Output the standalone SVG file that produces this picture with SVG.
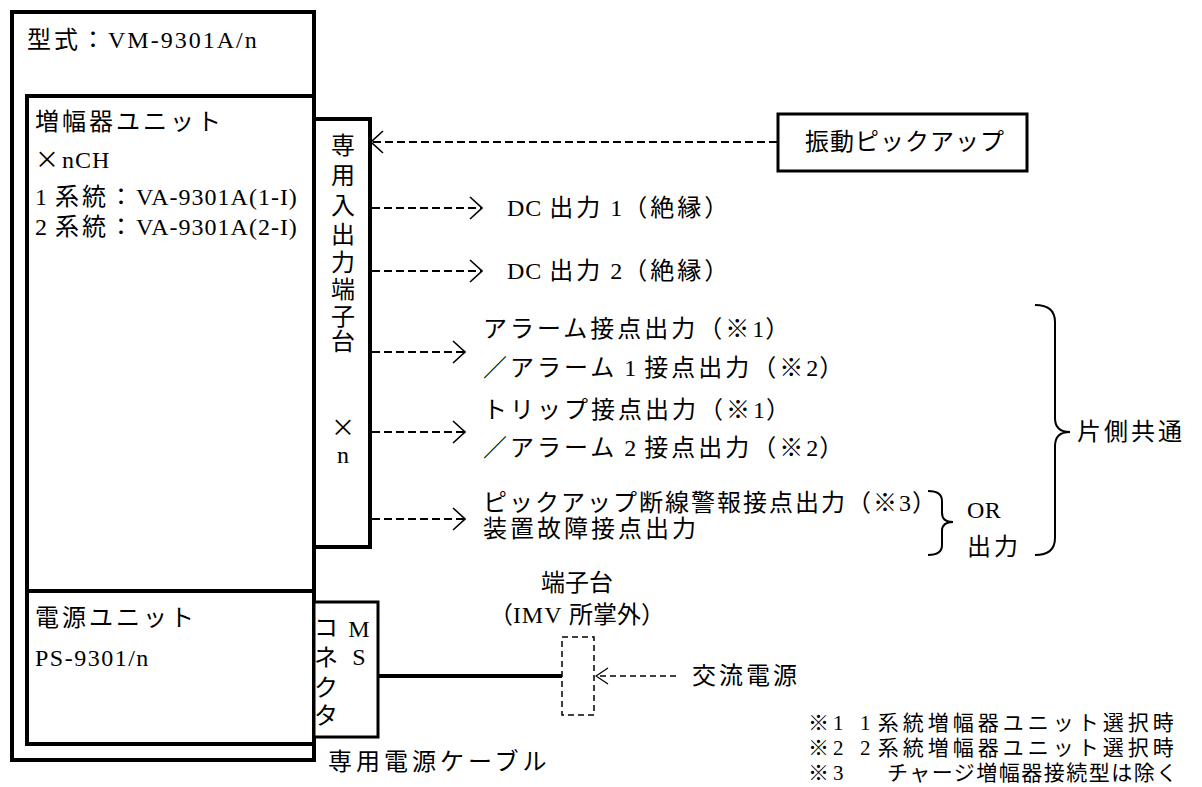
<svg xmlns="http://www.w3.org/2000/svg" width="1202" height="787" viewBox="0 0 1202 787">
<style>
.t{font-family:"Liberation Serif","Noto Sans CJK JP",serif;font-size:24px;fill:#000;letter-spacing:3px}
.l{letter-spacing:1px}
.v{text-anchor:middle;letter-spacing:0}
.c{text-anchor:middle}
.n{font-size:21px;letter-spacing:4px}
.box{fill:#fff;stroke:#000;stroke-width:4}
.box3{fill:#fff;stroke:#000;stroke-width:3}
.dash{stroke:#000;stroke-width:2;stroke-dasharray:8 4;fill:none}
.dash2{stroke:#000;stroke-width:1.5;stroke-dasharray:6 4;fill:none}
.brace{fill:none;stroke:#000;stroke-width:2}
</style>
<defs>
<marker id="arr" markerUnits="userSpaceOnUse" viewBox="0 0 14 24" markerWidth="14" markerHeight="24" refX="13" refY="12" orient="auto">
<path d="M1,1 L13,12 L1,23" fill="none" stroke="#000" stroke-width="1.6"/>
</marker>
<marker id="arrs" markerUnits="userSpaceOnUse" viewBox="0 0 14 18" markerWidth="14" markerHeight="18" refX="13" refY="9" orient="auto">
<path d="M1,1 L13,9 L1,17" fill="none" stroke="#000" stroke-width="1.3"/>
</marker>
</defs>
<rect width="1202" height="787" fill="#fff"/>

<g id="outer">
<rect class="box" x="12" y="12" width="302" height="748"/>
<text class="t" x="27" y="48">型式：<tspan style="letter-spacing:2px">VM-9301A/n</tspan></text>
</g>

<g id="amp-unit">
<rect class="box" x="27" y="96" width="287" height="495"/>
<text class="t" x="35" y="130">増幅器ユニット</text>
<text class="t" x="35" y="168"><tspan style="font-family:'Noto Sans CJK JP',sans-serif">×</tspan><tspan class="l">nCH</tspan></text>
<text class="t" x="35" y="205"><tspan class="l">1 </tspan>系統：<tspan class="l">VA-9301A(1-I)</tspan></text>
<text class="t" x="35" y="235"><tspan class="l">2 </tspan>系統：<tspan class="l">VA-9301A(2-I)</tspan></text>
</g>

<g id="power-unit">
<rect class="box" x="27" y="591" width="287" height="153"/>
<text class="t" x="35" y="626">電源ユニット</text>
<text class="t" x="35" y="666"><tspan style="letter-spacing:1.5px">PS-9301/n</tspan></text>
</g>

<g id="terminal-block">
<rect class="box" x="314" y="119" width="56" height="428"/>
<text class="t v" x="343" y="154">専</text>
<text class="t v" x="343" y="184">用</text>
<text class="t v" x="343" y="214">入</text>
<text class="t v" x="343" y="243">出</text>
<text class="t v" x="343" y="271">力</text>
<text class="t v" x="343" y="298">端</text>
<text class="t v" x="343" y="325">子</text>
<text class="t v" x="343" y="350">台</text>
<text class="t v" x="343" y="436" style="font-family:'Noto Sans CJK JP',sans-serif">×</text>
<text class="t v" x="343" y="463">n</text>
</g>

<g id="ms-connector">
<rect class="box3" x="314" y="602" width="64" height="135"/>
<text class="t v" x="326" y="636">コ</text>
<text class="t v" x="326" y="666">ネ</text>
<text class="t v" x="326" y="696">ク</text>
<text class="t v" x="326" y="724">タ</text>
<text class="t v" x="359" y="637">M</text>
<text class="t v" x="359" y="665">S</text>
</g>

<g id="pickup">
<rect class="box3" x="778" y="114" width="249" height="57"/>
<text class="t" x="805" y="150" style="letter-spacing:1px">振動ピックアップ</text>
</g>

<g id="terminal-ext">
<rect class="dash2" x="562" y="637" width="32" height="78"/>
<text class="t v" x="577" y="591" style="letter-spacing:0">端子台</text>
<text class="t v" x="577" y="623" style="letter-spacing:0">（<tspan class="l">IMV </tspan>所掌外）</text>
</g>

<g id="outputs">
<text class="t" x="507" y="216"><tspan class="l">DC </tspan>出力<tspan class="l"> 1</tspan>（絶縁）</text>
<text class="t" x="507" y="279"><tspan class="l">DC </tspan>出力<tspan class="l"> 2</tspan>（絶縁）</text>
<text class="t" x="483" y="337">アラーム接点出力（※<tspan class="l">1</tspan>）</text>
<text class="t" x="483" y="376">／アラーム<tspan class="l"> 1 </tspan>接点出力（※<tspan class="l">2</tspan>）</text>
<text class="t" x="483" y="418">トリップ接点出力（※<tspan class="l">1</tspan>）</text>
<text class="t" x="483" y="456">／アラーム<tspan class="l"> 2 </tspan>接点出力（※<tspan class="l">2</tspan>）</text>
<text class="t" x="483" y="511" style="letter-spacing:2px">ピックアップ断線警報接点出力（※<tspan class="l">3</tspan>）</text>
<text class="t" x="483" y="537">装置故障接点出力</text>
<text class="t" x="967" y="518" style="letter-spacing:0.5px">OR</text>
<text class="t" x="967" y="555">出力</text>
<text class="t" x="1077" y="440">片側共通</text>
</g>

<g id="ac-power">
<text class="t" x="692" y="684">交流電源</text>
</g>

<g id="labels">
<text class="t" x="328" y="770" style="letter-spacing:4px">専用電源ケーブル</text>
<text class="t n" x="808" y="730">※<tspan class="l">1</tspan></text>
<text class="t n" x="860" y="730"><tspan class="l">1 </tspan>系統増幅器ユニット選択時</text>
<text class="t n" x="808" y="755">※<tspan class="l">2</tspan></text>
<text class="t n" x="860" y="755"><tspan class="l">2 </tspan>系統増幅器ユニット選択時</text>
<text class="t n" x="808" y="780">※<tspan class="l">3</tspan></text>
<text class="t n" x="887" y="780" style="letter-spacing:1.5px">チャージ増幅器接続型は除く</text>
</g>

<g id="connectors">
<line class="dash" x1="777" y1="142" x2="371" y2="142" marker-end="url(#arr)"/>
<line class="dash" x1="372" y1="208" x2="482" y2="208" marker-end="url(#arr)"/>
<line class="dash" x1="372" y1="271" x2="482" y2="271" marker-end="url(#arr)"/>
<line class="dash" x1="372" y1="352" x2="465" y2="352" marker-end="url(#arr)"/>
<line class="dash" x1="372" y1="432" x2="465" y2="432" marker-end="url(#arr)"/>
<line class="dash" x1="372" y1="519" x2="465" y2="519" marker-end="url(#arr)"/>
<line x1="378" y1="676" x2="562" y2="676" stroke="#000" stroke-width="4"/>
<line class="dash2" x1="676" y1="676" x2="596" y2="676" marker-end="url(#arrs)"/>
<path class="brace" d="M1035,305 Q1055,305 1055,322 L1055,418 Q1055,432 1070,432 Q1055,432 1055,446 L1055,538 Q1055,555 1035,555"/>
<path class="brace" d="M928,491 Q942,491 942,501 L942,513 Q942,522 953,522 Q942,522 942,531 L942,545 Q942,555 928,555"/>
</g>
</svg>
